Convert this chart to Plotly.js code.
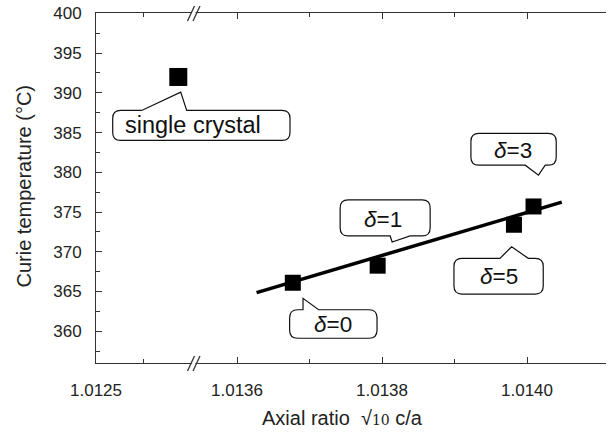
<!DOCTYPE html>
<html><head><meta charset="utf-8">
<script src="https://cdn.plot.ly/plotly-3.0.1.min.js"></script>
<style>html,body{margin:0;padding:0;background:#fff}</style>
</head><body><div id="chart" style="width:608px;height:433px"></div>
<script>
// ---- data ----
const crystalLabels = ['single crystal'];
const crystalRatio = [1.01337];
const crystalTc = [392.0];

const deltaLabels = ['<i>δ</i>=0', '<i>δ</i>=1', '<i>δ</i>=5', '<i>δ</i>=3'];
const ceramicRatio = [1.013677, 1.013794, 1.013982, 1.014009];
const ceramicTc = [366.1, 368.25, 373.4, 375.7];

const fitRatio = [1.013627, 1.014048];
const fitTc = [364.86, 376.24];

const yTickVals = [360, 365, 370, 375, 380, 385, 390, 395, 400];
const yMinorVals = [357.5, 362.5, 367.5, 372.5, 377.5, 382.5, 387.5, 392.5, 397.5];
const xLeftTickVals = [1.0125];
const xLeftTickText = ['1.0125'];
const xLeftMinorVals = [1.0130];
const xRightTickVals = [1.0136, 1.0138, 1.0140];
const xRightTickText = ['1.0136', '1.0138', '1.0140'];
const xRightMinorVals = [1.0137, 1.0139];

// ---- layout geometry ----
const M = {l: 96, r: 2, t: 13, b: 70};
const W = 608, H = 433;
const PW = W - M.l - M.r, PH = H - M.t - M.b;
const breakPx = 193;
const split = (breakPx - M.l) / PW;
const px = v => (v - M.l) / PW;
const py = v => (M.t + PH - v) / PH;

const xLeftRange = [1.0125, 1.0125 + (breakPx - M.l) / 47.3 * 0.0005];
const xRightRange = [1.0136 - (237 - breakPx) / 145 * 0.0002, 1.0140 + (W - M.r - 527) / 145 * 0.0002];
const yRange = [356, 400.05];
// data -> paper fraction through the same linear scales the axes use
const xLeftToPaper = v => (v - xLeftRange[0]) / (xLeftRange[1] - xLeftRange[0]) * split;
const yToPaper = v => (v - yRange[0]) / (yRange[1] - yRange[0]);

const FONT = 'Liberation Sans, Arial, sans-serif';
const INK = '#222';

// callout geometry in pixels relative to the point (y downward)
function calloutPath(b, t, r) {
  const P = (x, y) => x.toFixed(1) + ',' + (-y).toFixed(1);
  let s = 'M' + P(b.x0 + r, b.y0);
  if (t.side === 'top') s += ' L' + P(t.a, b.y0) + ' L' + P(t.tx, t.ty) + ' L' + P(t.b, b.y0);
  s += ' L' + P(b.x1 - r, b.y0) + ' Q' + P(b.x1, b.y0) + ' ' + P(b.x1, b.y0 + r);
  s += ' L' + P(b.x1, b.y1 - r) + ' Q' + P(b.x1, b.y1) + ' ' + P(b.x1 - r, b.y1);
  if (t.side === 'bottom') s += ' L' + P(t.b, b.y1) + ' L' + P(t.tx, t.ty) + ' L' + P(t.a, b.y1);
  s += ' L' + P(b.x0 + r, b.y1) + ' Q' + P(b.x0, b.y1) + ' ' + P(b.x0, b.y1 - r);
  s += ' L' + P(b.x0, b.y0 + r) + ' Q' + P(b.x0, b.y0) + ' ' + P(b.x0 + r, b.y0) + ' Z';
  return s;
}

const crystalCallout = [
  {box: {x0: -65.6, x1: 111.7, y0: 33.5, y1: 63.5}, tail: {side: 'top', a: -36.6, b: 8.4, tx: 2.4, ty: 15.2}, text: [14.5, 48.5], size: 23.5}
];
const deltaCallout = [
  {box: {x0: -3.2, x1: 84.2, y0: 27, y1: 55.5}, tail: {side: 'top', a: 10.2, b: 25.8, tx: 10.2, ty: 15.6}, text: [40.5, 42]},
  {box: {x0: -37.5, x1: 52.5, y0: -65.7, y1: -29.7}, tail: {side: 'bottom', a: 12.5, b: 32.5, tx: 14.5, ty: -23.7}, text: [5.5, -46]},
  {box: {x0: -60, x1: 29.3, y0: 33.6, y1: 69.3}, tail: {side: 'top', a: -14, b: 14.3, tx: -2.3, ty: 22}, text: [-15, 52]},
  {box: {x0: -62.6, x1: 22.7, y0: -73, y1: -41.3}, tail: {side: 'bottom', a: -8.3, b: 11.7, tx: 5, ty: -31.3}, text: [-20.8, -56]}
];

const shapes = [];
const annotations = [];

function addCallout(c, xref, yref, xv, yv, label, size) {
  shapes.push({
    type: 'path', xref: xref, yref: yref, xsizemode: 'pixel', ysizemode: 'pixel',
    xanchor: xv, yanchor: yv, path: calloutPath(c.box, c.tail, 8),
    line: {color: '#111', width: 1.2}, fillcolor: 'white', layer: 'above'
  });
  annotations.push({
    xref: xref, yref: yref, x: xv, y: yv, xshift: c.text[0], yshift: -c.text[1],
    text: label, showarrow: false, xanchor: 'center', yanchor: 'middle',
    font: {family: FONT, size: size, color: '#111'}
  });
}
crystalLabels.forEach((lab, i) => addCallout(crystalCallout[i], 'paper', 'paper',
  xLeftToPaper(crystalRatio[i]), yToPaper(crystalTc[i]), lab, crystalCallout[i].size));
deltaLabels.forEach((lab, i) => addCallout(deltaCallout[i], 'x2', 'y', ceramicRatio[i], ceramicTc[i], lab, 22.5));

// axis break marks
function breakMarks(yc) {
  shapes.push({type: 'rect', xref: 'paper', yref: 'paper', x0: px(191.5), x1: px(195.5), y0: py(yc + 1.5), y1: py(yc - 1.5),
    line: {width: 0}, fillcolor: 'white', layer: 'above'});
  [[187.5, 194.5], [193, 200]].forEach(([a, b]) => {
    shapes.push({type: 'line', xref: 'paper', yref: 'paper', x0: px(a), y0: py(yc + 8), x1: px(b), y1: py(yc - 7),
      line: {color: '#333', width: 1.3}, layer: 'above'});
  });
}
breakMarks(M.t + PH);
breakMarks(M.t);

// axis titles
annotations.push({
  xref: 'paper', yref: 'paper', x: px(342.7), y: py(418), xanchor: 'center', yanchor: 'middle', showarrow: false,
  text: 'Axial ratio  √<span style="font-family:DejaVu Serif;font-size:14px">10</span> c/a',
  font: {family: FONT, size: 20, color: INK}
});
annotations.push({
  xref: 'paper', yref: 'paper', x: px(24), y: py(186.5), xanchor: 'center', yanchor: 'middle', showarrow: false,
  textangle: -90, text: 'Curie temperature (°C)', font: {family: FONT, size: 20, color: INK}
});

const traces = [
  {x: fitRatio, y: fitTc, xaxis: 'x2', yaxis: 'y', mode: 'lines', line: {color: '#000', width: 3.5}, hoverinfo: 'skip'},
  {x: ceramicRatio, y: ceramicTc, xaxis: 'x2', yaxis: 'y', mode: 'markers', marker: {symbol: 'square', size: 16, color: '#000'}},
  {x: crystalRatio, y: crystalTc, xaxis: 'x', yaxis: 'y', mode: 'markers', marker: {symbol: 'square', size: 18, color: '#000'}}
];

const axBase = {
  showline: true, linecolor: '#333', linewidth: 1, showgrid: false, zeroline: false,
  ticks: 'inside', ticklen: 6, tickcolor: '#333', tickwidth: 1,
  tickfont: {family: FONT, size: 17, color: INK}, fixedrange: true
};

const layout = {
  width: W, height: H, margin: M, showlegend: false,
  paper_bgcolor: 'white', plot_bgcolor: 'white',
  xaxis: Object.assign({}, axBase, {
    domain: [0, split], anchor: 'y', mirror: 'ticks', range: xLeftRange,
    tickmode: 'array', tickvals: xLeftTickVals, ticktext: xLeftTickText, ticklabelstandoff: 12,
    minor: {tickmode: 'array', tickvals: xLeftMinorVals, ticks: 'inside', ticklen: 4, tickcolor: '#333'}
  }),
  xaxis2: Object.assign({}, axBase, {
    domain: [split, 1], anchor: 'y', mirror: 'ticks', range: xRightRange,
    tickmode: 'array', tickvals: xRightTickVals, ticktext: xRightTickText, ticklabelstandoff: 12,
    minor: {tickmode: 'array', tickvals: xRightMinorVals, ticks: 'inside', ticklen: 4, tickcolor: '#333'}
  }),
  yaxis: Object.assign({}, axBase, {
    anchor: 'x', range: yRange,
    tickmode: 'array', tickvals: yTickVals, ticklabelstandoff: 10,
    minor: {tickmode: 'array', tickvals: yMinorVals, ticks: 'inside', ticklen: 4, tickcolor: '#333'}
  }),
  shapes: shapes,
  annotations: annotations
};

Plotly.newPlot('chart', traces, layout, {staticPlot: true, displayModeBar: false});
</script>
</body></html>
